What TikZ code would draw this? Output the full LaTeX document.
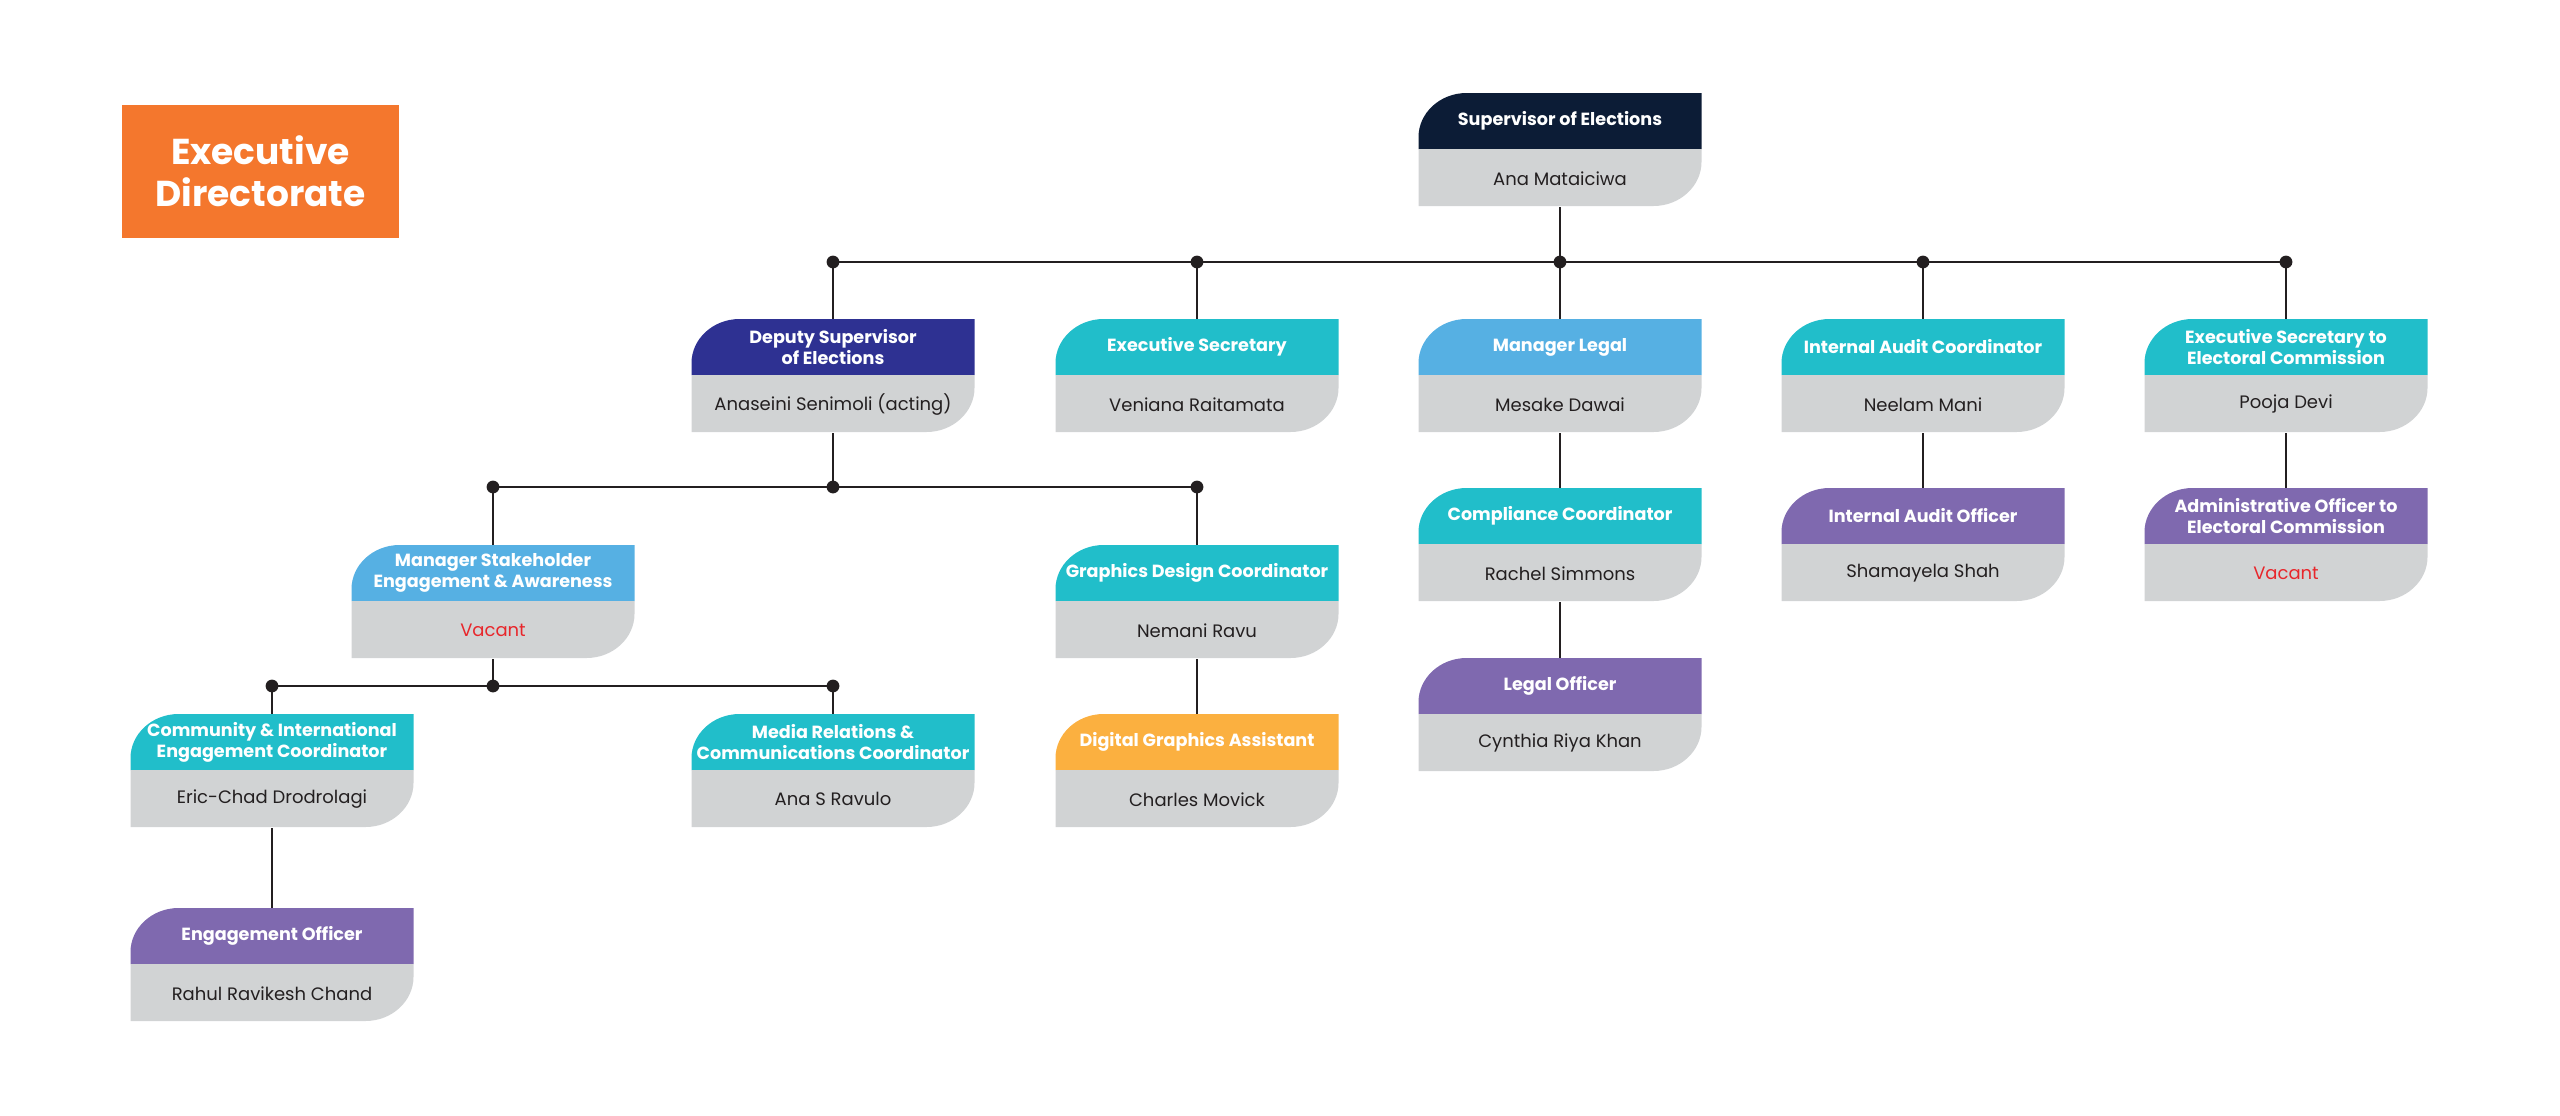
\documentclass[tikz,border=0pt]{standalone}
\usepackage{fontspec}
\setmainfont{Poppins}
\usepackage{xcolor}
\usepackage{tikz}
\usetikzlibrary{positioning}
\definecolor{EDNavy}{RGB}{12, 28, 54}
\definecolor{EDIndigo}{RGB}{46, 49, 146}
\definecolor{EDTeal}{RGB}{33, 190, 202}
\definecolor{EDSky}{RGB}{86, 176, 227}
\definecolor{EDPurple}{RGB}{127, 105, 175}
\definecolor{EDAmber}{RGB}{251, 176, 64}
\definecolor{EDOrange}{RGB}{244, 119, 45}
\definecolor{EDGrey}{RGB}{209, 211, 212}
\definecolor{EDLine}{RGB}{35, 31, 32}
\definecolor{EDVacant}{RGB}{232, 38, 43}

\tikzset{
  roletext/.style={align=center, inner sep=0pt, minimum width=141.5pt, minimum height=28pt,
    text=white, font=\fontsize{8.8}{10.4}\selectfont\bfseries},
  nametext/.style={align=center, inner sep=0pt, minimum width=141.5pt, minimum height=28.5pt,
    text=EDLine, font=\fontsize{9}{11}\selectfont},
  orgline/.style={draw=EDLine, line width=0.9pt},
}

% role box: name, x, top, colour, role, person
\newcommand{\rolebox}[6]{%
  \begin{scope}[shift={(#2,#3)}]
    \fill[#4] (-141.5,56) -- (-141.5,44) .. controls (-141.5,20) and (-120,0) .. (-93.5,0)
      -- (141.5,0) -- (141.5,56) -- cycle;
    \fill[EDGrey] (-141.5,56) -- (141.5,56) -- (141.5,69) .. controls (141.5,93) and (120,113) .. (93.5,113)
      -- (-141.5,113) -- cycle;
    \node[roletext] (#1-t) at (0,28) {#5};
    \node[nametext, below=0pt of #1-t] (#1) {#6};
  \end{scope}}

\begin{document}
\begin{tikzpicture}[x=0.5pt, y=-0.5pt]
    \path[use as bounding box] (0,0) rectangle (2560,1115);

    % title block
    \node[fill=EDOrange, minimum width=138.5pt, minimum height=66.5pt, inner sep=0pt, align=center,
      text=white, font=\fontsize{18}{21}\selectfont\bfseries] (execdir) at (260.5,171.5)
      {Executive\\Directorate};

    % boxes
    \rolebox{sup}{1560}{93}{EDNavy}{Supervisor of Elections}{Ana Mataiciwa}

    \rolebox{dep}{833}{319}{EDIndigo}{Deputy Supervisor\\of Elections}{Anaseini Senimoli (acting)}
    \rolebox{esec}{1197}{319}{EDTeal}{Executive Secretary}{Veniana Raitamata}
    \rolebox{mlegal}{1560}{319}{EDSky}{Manager Legal}{Mesake Dawai}
    \rolebox{iac}{1923}{319}{EDTeal}{Internal Audit Coordinator}{Neelam Mani}
    \rolebox{esc}{2286}{319}{EDTeal}{Executive Secretary to\\Electoral Commission}{Pooja Devi}

    \rolebox{mse}{493}{545}{EDSky}{Manager Stakeholder\\Engagement \& Awareness}{\color{EDVacant}Vacant}
    \rolebox{gdc}{1197}{545}{EDTeal}{Graphics Design Coordinator}{Nemani Ravu}
    \rolebox{cc}{1560}{488}{EDTeal}{Compliance Coordinator}{Rachel Simmons}
    \rolebox{iao}{1923}{488}{EDPurple}{Internal Audit Officer}{Shamayela Shah}
    \rolebox{aoec}{2286}{488}{EDPurple}{Administrative Officer to\\Electoral Commission}{\color{EDVacant}Vacant}

    \rolebox{cie}{272}{714}{EDTeal}{Community \& International\\Engagement Coordinator}{Eric-Chad Drodrolagi}
    \rolebox{mrc}{833}{714}{EDTeal}{Media Relations \&\\Communications Coordinator}{Ana S Ravulo}
    \rolebox{dga}{1197}{714}{EDAmber}{Digital Graphics Assistant}{Charles Movick}
    \rolebox{lo}{1560}{658}{EDPurple}{Legal Officer}{Cynthia Riya Khan}

    \rolebox{eo}{272}{908}{EDPurple}{Engagement Officer}{Rahul Ravikesh Chand}

    % bus levels
    \coordinate (busA) at (0,262);
    \coordinate (busB) at (0,487);
    \coordinate (busC) at (0,686);

    % supervisor to first row
    \draw[orgline] (sup.south) -- (sup.south |- busA);
    \draw[orgline] (dep-t.north |- busA) -- (esc-t.north |- busA);
    \draw[orgline] (dep-t.north) -- (dep-t.north |- busA);
    \draw[orgline] (esec-t.north) -- (esec-t.north |- busA);
    \draw[orgline] (mlegal-t.north) -- (mlegal-t.north |- busA);
    \draw[orgline] (iac-t.north) -- (iac-t.north |- busA);
    \draw[orgline] (esc-t.north) -- (esc-t.north |- busA);
    \fill[EDLine] (dep-t.north |- busA) circle (3.2pt);
    \fill[EDLine] (esec-t.north |- busA) circle (3.2pt);
    \fill[EDLine] (mlegal-t.north |- busA) circle (3.2pt);
    \fill[EDLine] (iac-t.north |- busA) circle (3.2pt);
    \fill[EDLine] (esc-t.north |- busA) circle (3.2pt);

    % deputy branch
    \draw[orgline] (dep.south) -- (dep.south |- busB);
    \draw[orgline] (mse-t.north |- busB) -- (gdc-t.north |- busB);
    \draw[orgline] (mse-t.north) -- (mse-t.north |- busB);
    \draw[orgline] (gdc-t.north) -- (gdc-t.north |- busB);
    \fill[EDLine] (mse-t.north |- busB) circle (3.2pt);
    \fill[EDLine] (dep.south |- busB) circle (3.2pt);
    \fill[EDLine] (gdc-t.north |- busB) circle (3.2pt);

    % stakeholder branch
    \draw[orgline] (mse.south) -- (mse.south |- busC);
    \draw[orgline] (cie-t.north |- busC) -- (mrc-t.north |- busC);
    \draw[orgline] (cie-t.north) -- (cie-t.north |- busC);
    \draw[orgline] (mrc-t.north) -- (mrc-t.north |- busC);
    \fill[EDLine] (cie-t.north |- busC) circle (3.2pt);
    \fill[EDLine] (mse.south |- busC) circle (3.2pt);
    \fill[EDLine] (mrc-t.north |- busC) circle (3.2pt);

    % single reports
    \draw[orgline] (gdc.south) -- (dga-t.north);
    \draw[orgline] (cie.south) -- (eo-t.north);
    \draw[orgline] (mlegal.south) -- (cc-t.north);
    \draw[orgline] (cc.south) -- (lo-t.north);
    \draw[orgline] (iac.south) -- (iao-t.north);
    \draw[orgline] (esc.south) -- (aoec-t.north);
  \end{tikzpicture}
\end{document}
